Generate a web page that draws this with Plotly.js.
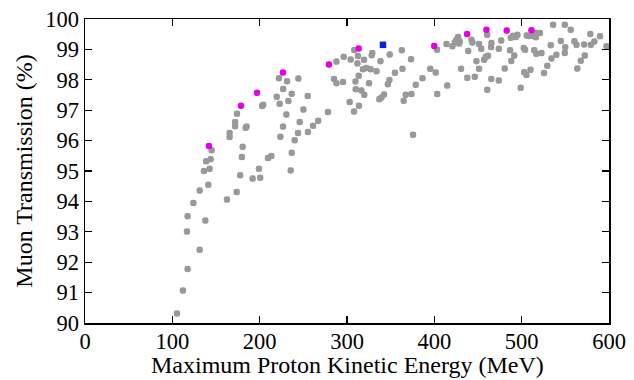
<!DOCTYPE html>
<html>
<head>
<meta charset="utf-8">
<script src="https://cdn.plot.ly/plotly-3.0.1.min.js"></script>
<style>html,body{margin:0;padding:0;background:#fff}#chart{width:634px;height:380px}</style>
</head>
<body>
<div id="chart"></div>
<script>
// Gray runs (MeV, %)
const grayX = [105.3,112.1,117.5,131.3,116.7,117.5,124.1,131.3,137.8,141.2,136.2,142.7,138.7,143.9,145.0,
  162.5,173.7,177.7,192.0,200.6,199.2,180.5,179.6,165.6,165.6,171.9,171.9,174.0,184.0,185.0,202.9,204.0,
  209.5,213.4,222.1,231.3,244.3,226.9,236.7,219.5,232.9,222.9,255.0,230.6,250.1,226.7,223.7,245.8,243.9,
  255.3,261.1,267.0,240.1,236.7,235.5,278.2,287.9,296.2,304.2,308.3,312.5,312.0,319.5,328.9,328.3,348.9,
  338.3,362.7,373.3,403.1,295.4,285.1,287.9,313.4,309.7,318.3,322.2,327.1,333.8,325.2,310.0,316.5,319.8,
  303.1,308.0,313.7,337.0,339.5,342.4,346.8,348.6,354.9,363.5,364.9,367.2,373.8,378.7,386.4,395.3,401.6,
  403.3,375.6,413.9,420.7,423.4,425.3,427.2,428.3,429.1,414.8,430.6,438.8,442.5,443.6,437.7,446.3,448.2,
  451.2,451.2,453.7,457.0,458.9,461.5,460.4,460.6,465.4,465.0,465.2,473.8,473.8,476.6,480.6,487.5,490.1,
  493.2,495.2,486.7,488.1,491.5,498.9,502.4,503.9,502.9,505.5,510.1,505.8,508.2,513.0,516.2,517.0,520.8,
  514.4,516.7,522.7,525.6,529.3,533.3,534.1,539.8,544.8,549.9,549.4,536.0,549.4,556.2,560.3,562.8,563.7,
  567.7,572.3,571.5,578.6,579.2,583.2,589.7,597.1];
const grayY = [90.31,91.07,91.78,92.41,93.01,93.51,93.95,94.36,93.37,94.55,95.00,95.07,95.32,95.39,95.68,
  94.06,94.31,94.86,94.75,94.78,95.07,95.80,95.46,96.25,96.12,96.61,96.47,96.88,96.42,96.46,97.14,97.18,
  95.43,95.49,98.05,97.95,98.04,97.70,97.54,97.44,97.30,97.21,97.47,96.86,97.02,96.46,96.13,96.61,96.25,
  96.28,96.49,96.65,96.01,95.60,95.02,96.94,98.60,98.76,98.67,98.98,98.78,98.54,98.66,98.88,98.81,98.83,
  98.61,98.97,98.68,98.99,97.93,98.03,97.89,98.13,97.94,98.35,98.39,98.35,98.28,97.89,97.69,97.65,97.51,
  97.27,96.96,97.15,97.36,97.42,97.52,97.85,97.99,98.23,98.36,97.31,97.51,97.53,97.84,98.05,98.36,98.24,
  97.53,96.19,99.18,99.10,99.23,99.32,99.41,99.19,99.26,97.81,98.36,98.95,99.32,99.23,98.07,98.10,98.61,
  98.36,99.18,99.02,98.66,98.75,98.79,99.48,97.67,99.21,99.08,98.03,97.98,99.02,99.29,98.37,99.38,99.45,
  99.41,99.48,98.97,98.62,98.80,97.74,99.05,98.99,98.25,98.16,98.33,99.46,99.44,99.45,99.40,99.54,99.54,
  98.97,98.86,98.88,98.22,98.46,99.14,98.70,98.82,99.28,99.07,98.88,99.81,99.81,99.65,99.27,99.15,98.37,
  98.63,98.80,99.16,99.51,99.15,99.26,99.43,99.10];
// Magenta runs
const magX = [141.9,178.6,196.9,226.7,279.3,313.4,399.9,437.5,459.7,482.9,511.2];
const magY = [95.82,97.15,97.57,98.24,98.50,99.03,99.11,99.51,99.65,99.62,99.63];
// Blue run
const blueX = [341.2];
const blueY = [99.15];
const errVal = 0.07;

const xTitle = 'Maximum Proton Kinetic Energy (MeV)';
const yTitle = 'Muon Transmission (%)';

const font = 'Liberation Serif';
const errStyle = {type:'constant', value:errVal, color:'#a8a8a8', thickness:1.2, width:2.5};

const traces = [
  {x:grayX, y:grayY, mode:'markers', type:'scatter', error_y:errStyle,
   marker:{color:'#999999', size:6.5, symbol:'circle'}},
  {x:magX, y:magY, mode:'markers', type:'scatter', error_y:errStyle,
   marker:{color:'#e600e6', size:6.5, symbol:'circle'}},
  {x:blueX, y:blueY, mode:'markers', type:'scatter', error_y:errStyle,
   marker:{color:'#0a1ee0', size:6.5, symbol:'square'}}
];

const axBase = {
  showgrid:false, zeroline:false, showline:true, linecolor:'#000', linewidth:1.5,
  mirror:'ticks', ticks:'inside', ticklen:7, tickwidth:1.2, tickcolor:'#000',
  tickfont:{family:font, size:22.5, color:'#000'}, automargin:false
};

const layout = {
  width:634, height:380,
  margin:{l:85, r:25, t:19, b:57},
  paper_bgcolor:'#fff', plot_bgcolor:'#fff',
  showlegend:false,
  font:{family:font, color:'#000'},
  xaxis:Object.assign({}, axBase, {range:[0,600], dtick:100, tick0:0, ticklabelstandoff:-3}),
  yaxis:Object.assign({}, axBase, {range:[90,100], dtick:1, tick0:90,
    title:{text:yTitle, font:{family:font, size:24, color:'#000'}, standoff:6}}),
  annotations:[{
    text:xTitle, xref:'paper', yref:'paper', x:0.5, y:-0.093, xanchor:'center', yanchor:'top',
    showarrow:false, borderpad:0, font:{family:font, size:24, color:'#000'}
  }]
};

Plotly.newPlot('chart', traces, layout, {displayModeBar:false, staticPlot:true});
</script>
</body>
</html>
